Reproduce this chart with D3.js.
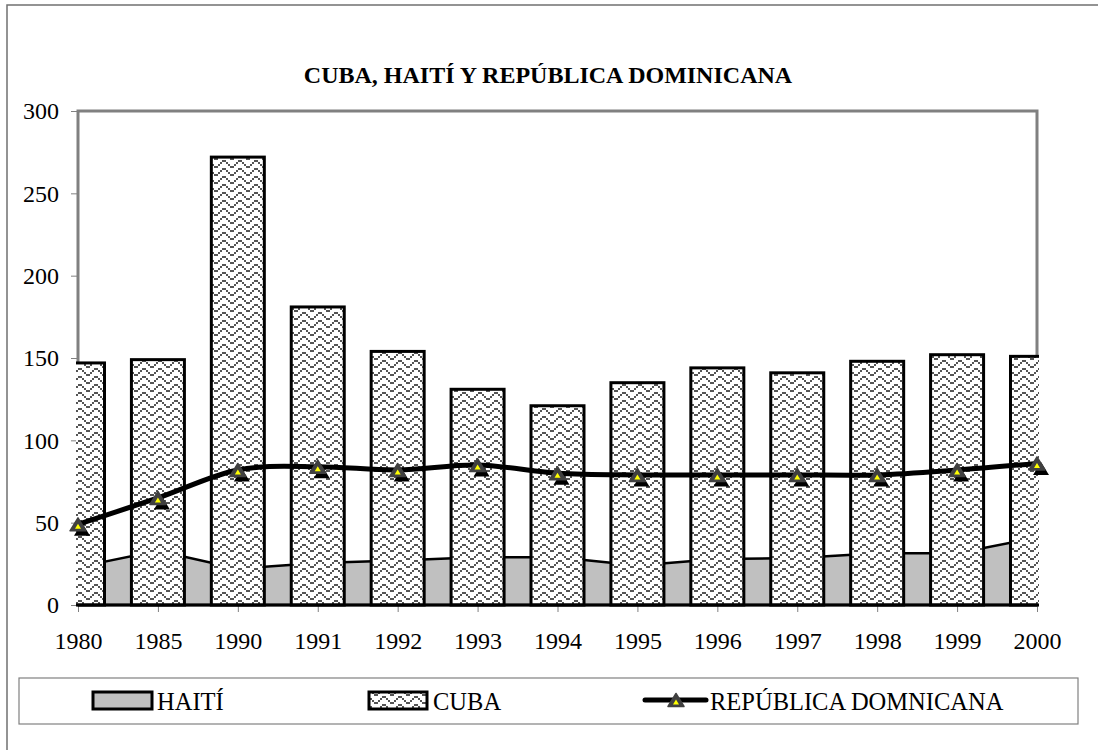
<!DOCTYPE html>
<html>
<head>
<meta charset="utf-8">
<script src="https://cdn.jsdelivr.net/npm/d3@7/dist/d3.min.js"></script>
<style>
  html, body { margin: 0; padding: 0; background: #ffffff; }
  svg { display: block; }
  svg text { font-family: "Liberation Serif", "Times New Roman", serif !important; fill: #000; }
</style>
</head>
<body>
<svg id="chart" width="1098" height="750"></svg>
<script>
// ---- data ----
const years = ["1980", "1985", "1990", "1991", "1992", "1993", "1994", "1995", "1996", "1997", "1998", "1999", "2000"];
const cuba = [147, 149, 272, 181, 154, 131, 121, 135, 144, 141, 148, 152, 151];
const haiti = [23, 33, 22, 25.5, 27, 29, 29, 24, 28, 28.5, 31.5, 31.5, 41];
const dominicana = [49, 65, 82, 84, 82, 85, 80, 79, 79, 79, 79, 82, 86];
const yTicks = [0, 50, 100, 150, 200, 250, 300];
const titleText = "CUBA, HAITÍ Y REPÚBLICA DOMINICANA";
const legendLabels = ["HAITÍ", "CUBA", "REPÚBLICA DOMNICANA"];

(function () {
// ---- layout ----
const W = 1098, H = 750;
const pLeft = 78, pRight = 1037, pTop = 111, pBottom = 605;
const barW = 53;

const svg = d3.select("#chart");

// pattern (zig-zag / herringbone style)
const defs = svg.append("defs");
const pat = defs.append("pattern")
  .attr("id", "weave").attr("patternUnits", "userSpaceOnUse")
  .attr("width", 16).attr("height", 16);
pat.append("rect").attr("width", 16).attr("height", 16).attr("fill", "#ffffff");
const bitmap = [
  "10000001",
  "01000010",
  "00100100",
  "00011000",
  "10000001",
  "01000010",
  "00100100",
  "00011000"
];
bitmap.forEach((row, r) => {
  row.split("").forEach((c, k) => {
    if (c === "1") pat.append("rect").attr("x", k * 2).attr("y", r * 2)
      .attr("width", 2).attr("height", 2).attr("fill", "#555555");
  });
});
const clip = defs.append("clipPath").attr("id", "plotclip");
clip.append("rect").attr("x", pLeft - 2).attr("y", pTop - 2)
  .attr("width", pRight - pLeft + 4).attr("height", pBottom - pTop + 6);

// outer border
svg.append("rect").attr("x", 7).attr("y", 5).attr("width", W + 20).attr("height", H + 20)
  .attr("fill", "none").attr("stroke", "#707070").attr("stroke-width", 1.5);

// title
svg.append("text").attr("x", 548).attr("y", 83).attr("text-anchor", "middle")
  .attr("font-size", 24).attr("font-weight", "bold").text(titleText);

// scales
const x = d3.scalePoint().domain(years).range([pLeft, pRight]);
const y = d3.scaleLinear().domain([0, 300]).range([pBottom, pTop]);

// y axis
const yAxis = d3.axisLeft(y).tickValues(yTicks).tickSize(7).tickPadding(12);
const gy = svg.append("g").attr("transform", `translate(${pLeft},0)`).call(yAxis);
gy.attr("font-family", null);
gy.select(".domain").remove();
gy.selectAll(".tick line").attr("stroke", "#808080");
gy.selectAll(".tick text").attr("font-size", 24).attr("fill", "#000");

// x axis
const xAxis = d3.axisBottom(x).tickSize(7).tickPadding(20);
const gx = svg.append("g").attr("transform", `translate(0,${pBottom})`).call(xAxis);
gx.attr("font-family", null);
gx.select(".domain").remove();
gx.selectAll(".tick line").attr("stroke", "#808080");
gx.selectAll(".tick text").attr("font-size", 24).attr("fill", "#000");

// plot frame (gray)
svg.append("path")
  .attr("d", `M${pLeft},${pBottom} V${pTop} H${pRight} V${pBottom}`)
  .attr("fill", "none").attr("stroke", "#808080").attr("stroke-width", 3);

const plot = svg.append("g").attr("clip-path", "url(#plotclip)");

// Haiti area
const area = d3.area()
  .x((d, i) => x(years[i]))
  .y0(y(0))
  .y1(d => y(d));
plot.append("path").datum(haiti).attr("d", area)
  .attr("fill", "#c0c0c0").attr("stroke", "#000").attr("stroke-width", 2.5)
  .attr("stroke-linejoin", "miter");

// Cuba bars
plot.selectAll("rect.cuba").data(cuba).join("rect")
  .attr("class", "cuba")
  .attr("x", (d, i) => x(years[i]) - barW / 2)
  .attr("width", barW)
  .attr("y", d => y(d))
  .attr("height", d => y(0) - y(d))
  .attr("fill", "url(#weave)")
  .attr("stroke", "#000").attr("stroke-width", 3);

// bottom line
svg.append("line").attr("x1", pLeft).attr("x2", pRight).attr("y1", pBottom).attr("y2", pBottom)
  .attr("stroke", "#000").attr("stroke-width", 3);

// Dominicana line
const line = d3.line()
  .x((d, i) => x(years[i]))
  .y(d => y(d))
  .curve(d3.curveCatmullRom.alpha(0));
svg.append("path").datum(dominicana).attr("d", line)
  .attr("fill", "none").attr("stroke", "#000").attr("stroke-width", 5)
  .attr("stroke-linecap", "round");

function tri(cx, cy, w, h) {
  return `M${cx},${cy - h / 2} L${cx + w / 2},${cy + h / 2} L${cx - w / 2},${cy + h / 2} Z`;
}
function marker(g, cx, cy, shadow) {
  if (shadow) g.append("path").attr("d", tri(cx + 4, cy + 5, 16, 13)).attr("fill", "#000");
  g.append("path").attr("d", tri(cx, cy, 16, 13)).attr("fill", "#404040")
    .attr("stroke", "#404040").attr("stroke-width", 1.5).attr("stroke-linejoin", "round");
  g.append("path").attr("d", tri(cx, cy + 2, 6, 5)).attr("fill", "#ffff00");
}
const mg = svg.append("g");
dominicana.forEach((d, i) => marker(mg, x(years[i]), y(d), true));

// legend
svg.append("rect").attr("x", 19).attr("y", 678).attr("width", 1059).attr("height", 46)
  .attr("fill", "none").attr("stroke", "#808080").attr("stroke-width", 1.2);
svg.append("rect").attr("x", 93).attr("y", 692).attr("width", 59).attr("height", 17)
  .attr("fill", "#c0c0c0").attr("stroke", "#000").attr("stroke-width", 3);
svg.append("text").attr("x", 157).attr("y", 710).attr("font-size", 24.5).text(legendLabels[0]);
svg.append("rect").attr("x", 369).attr("y", 692).attr("width", 58).attr("height", 17)
  .attr("fill", "url(#weave)").attr("stroke", "#000").attr("stroke-width", 3);
svg.append("text").attr("x", 433).attr("y", 710).attr("font-size", 24.5).text(legendLabels[1]);
svg.append("line").attr("x1", 645).attr("x2", 706).attr("y1", 700).attr("y2", 700)
  .attr("stroke", "#000").attr("stroke-width", 5).attr("stroke-linecap", "round");
marker(svg.append("g"), 676, 700, false);
svg.append("text").attr("x", 710).attr("y", 710).attr("font-size", 24.5).text(legendLabels[2]);
})();
</script>
</body>
</html>
